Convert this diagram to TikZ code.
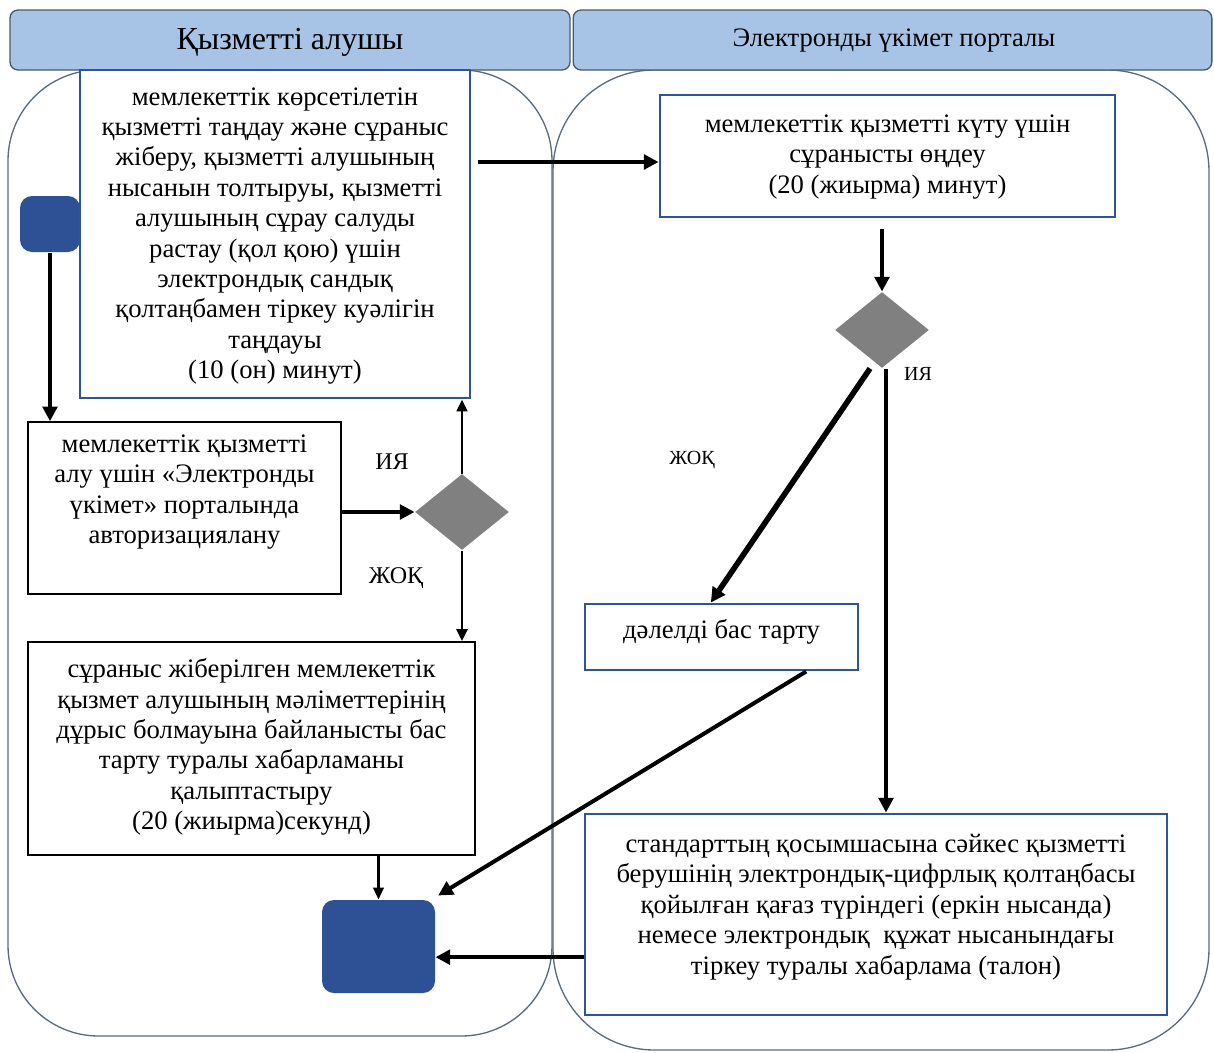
\documentclass[tikz,border=0pt]{standalone}
\usepackage{fontspec}
\setmainfont{Liberation Serif}
\usetikzlibrary{shapes.geometric,arrows.meta,positioning}

\definecolor{hdrfill}{HTML}{A7C3E6}
\definecolor{hdrline}{HTML}{4A5A6E}
\definecolor{laneline}{HTML}{5B6B80}
\definecolor{boxblue}{HTML}{2F5597}
\definecolor{termblue}{HTML}{2E5195}
\definecolor{decgray}{HTML}{808080}

\tikzset{every picture/.style={line width=0.75pt}}
\tikzset{
  header/.style={draw=hdrline, fill=hdrfill, rounded corners=6pt, inner sep=0pt, line width=1pt},
  bluebox/.style={draw=boxblue, line width=2.2pt, fill=white, inner sep=0pt},
  blackbox/.style={draw=black, line width=1.2pt, fill=white, inner sep=0pt},
  boxtext/.style={align=center, inner sep=0pt, font=\fontsize{20}{22.8}\selectfont},
  terminal/.style={fill=termblue, rounded corners=9pt, inner sep=0pt},
  decision/.style={diamond, fill=decgray, inner sep=0pt, minimum width=70.5pt, minimum height=57pt},
  flow/.style={-{Triangle[length=11pt,width=11pt]}, line width=3pt},
  flowthin/.style={-{Triangle[length=9pt,width=8pt]}, line width=1.6pt},
  answer/.style={inner sep=0pt, font=\fontsize{18}{20}\selectfont}
}

\begin{document}
\begin{tikzpicture}[x=0.75pt,y=0.75pt,yscale=-1,xscale=1]
	\useasboundingbox (0,0) rectangle (1214,1053);
	
	%Shape: Lanes
	\draw [laneline, line width=1pt, rounded corners=68pt] (8,70) rectangle (552,1036);
	\draw [laneline, line width=1pt, rounded corners=76pt] (553,70) rectangle (1209,1050);
	
	%Shape: Headers
	\node [header, minimum width=420pt, minimum height=45pt] (hleft) at (290,40) {};
	\node [header, minimum width=479pt, minimum height=45pt] (hright) at (892.5,40) {};
	% Text Node
	\node [font=\fontsize{24}{26}\selectfont] (tleft) at (290,42) {Қызметті алушы};
	% Text Node
	\node [font=\fontsize{20}{22}\selectfont] (tright) at (894,41) {Электронды үкімет порталы};
	
	%Shape: Terminals
	\node [terminal, minimum width=45pt, minimum height=42pt] (start) at (50,224) {};
	\node [terminal, minimum width=84.75pt, minimum height=69.75pt] (finish) at (378.5,946.5) {};
	
	%Shape: Process boxes
	\node [bluebox, minimum width=292.5pt, minimum height=246pt] (choose) at (275,234) {};
	\node [blackbox, minimum width=234.75pt, minimum height=129pt] (auth) at (184.5,508) {};
	\node [blackbox, minimum width=335.25pt, minimum height=159.75pt] (deny) at (251.5,748.5) {};
	\node [bluebox, minimum width=341.25pt, minimum height=91.5pt] (handle) at (887.5,156) {};
	\node [bluebox, minimum width=204.75pt, minimum height=49.5pt] (refuse) at (721.5,637) {};
	\node [bluebox, minimum width=436.5pt, minimum height=150.75pt] (notice) at (876,914.5) {};
	
	% Text Node
	\node [boxtext] (choose-t) at (275,236) {мемлекеттік көрсетілетін\\қызметті таңдау және сұраныс\\жіберу, қызметті алушының\\нысанын толтыруы, қызметті\\алушының сұрау салуды\\растау (қол қою) үшін\\электрондық сандық\\қолтаңбамен тіркеу куәлігін\\таңдауы\\(10 (он) минут)};
	% Text Node
	\node [boxtext] (auth-t) at (184.5,492) {мемлекеттік қызметті\\алу үшін «Электронды\\үкімет» порталында\\авторизациялану};
	% Text Node
	\node [boxtext] (deny-t) at (251.5,747) {сұраныс жіберілген мемлекеттік\\қызмет алушының мәліметтерінің\\дұрыс болмауына байланысты бас\\тарту туралы хабарламаны\\қалыптастыру\\(20 (жиырма)секунд)};
	% Text Node
	\node [boxtext] (handle-t) at (887.5,157) {мемлекеттік қызметті күту үшін\\сұранысты өңдеу\\(20 (жиырма) минут)};
	% Text Node
	\node [boxtext] (refuse-t) at (721.5,632) {дәлелді бас тарту};
	% Text Node
	\node [boxtext] (notice-t) at (876,907) {стандарттың қосымшасына сәйкес қызметті\\берушінің электрондық-цифрлық қолтаңбасы\\қойылған қағаз түріндегі (еркін нысанда)\\немесе электрондық\ \ құжат нысанындағы\\тіркеу туралы хабарлама (талон)};
	
	%Shape: Decisions
	\node [decision] (check) at (462,512) {};
	\node [decision] (verify) at (882,330) {};
	
	% Text Node
	\node [answer] (yes1) at (392,462) {ИЯ};
	\node [answer] (no1) at (396,578) {ЖОҚ};
	\node [answer, font=\fontsize{15}{18}\selectfont] (yes2) at (918,374) {ИЯ};
	\node [answer, font=\fontsize{15}{18}\selectfont] (no2) at (692,460) {ЖОҚ};
	
	% Connectors
	\draw [flow] (start.south) -- (start.south |- auth.north);
	\draw [flow] (check.west -| auth.east) -- (check.west);
	\draw [flowthin, line width=2.2pt] (check.north) -- (check.north |- choose.south);
	\draw [flowthin, line width=2.2pt] (check.south) -- (check.south |- deny.north);
	\coordinate (sendout) at (478,162);
	\draw [flow] (sendout) -- (sendout -| handle.west);
	\draw [flow] ([yshift=8pt]verify.north |- handle.south) -- (verify.north);
	\draw [flow, line width=4.2pt] ([xshift=-9pt]verify.south) -- ([xshift=-8pt]refuse.north);
	\draw [flow, line width=2.6pt] ([xshift=3pt]verify.south) -- ([xshift=3pt]verify.south |- notice.north);
	\draw [flowthin] (finish.north |- deny.south) -- (finish.north);
	\draw [flow] ([xshift=-40pt]refuse.south east) -- ([xshift=2pt,yshift=-3pt]finish.north east);
	\draw [flow] ([yshift=8pt]notice.west |- finish.east) -- ([yshift=8pt]finish.east);
	
\end{tikzpicture}
\end{document}
